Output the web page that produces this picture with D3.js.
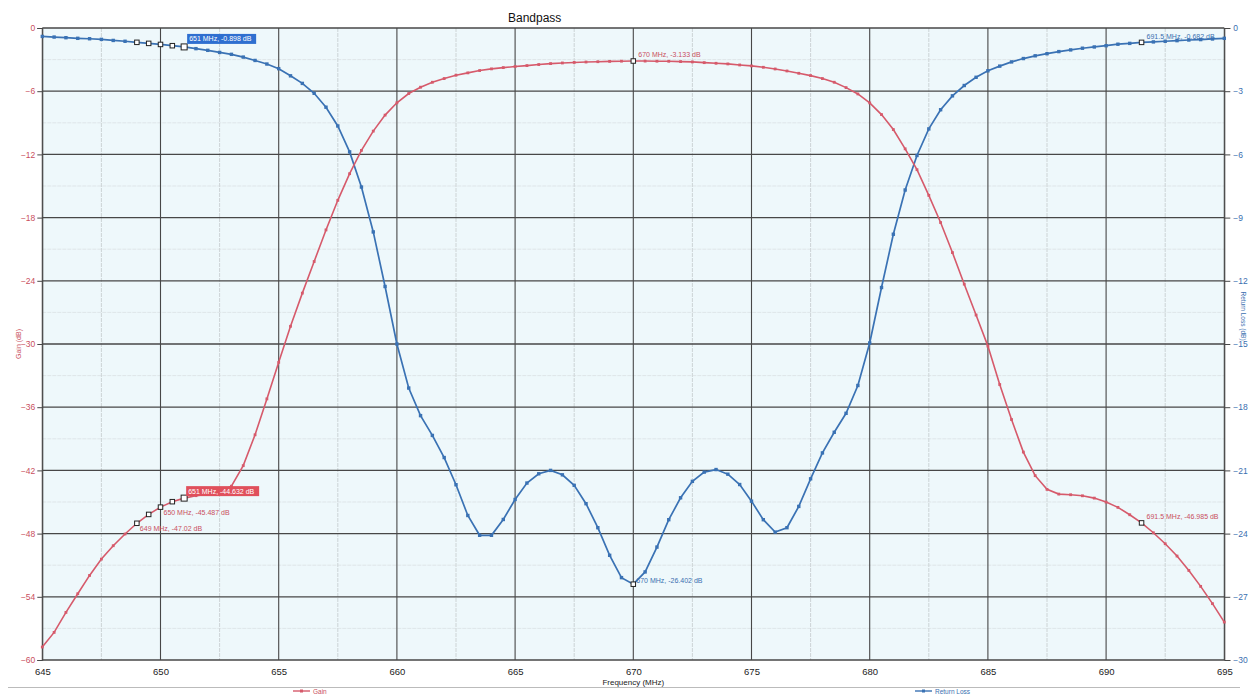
<!DOCTYPE html>
<html><head><meta charset="utf-8">
<script src="https://cdn.jsdelivr.net/npm/d3@7/dist/d3.min.js"></script>
<style>
body{margin:0;background:#fff;}
svg{display:block;font-family:"Liberation Sans",Arial,sans-serif;}
</style>
</head><body>
<svg id="chart" width="1248" height="696"></svg>
<script>
// ---------- DATA ----------
const freqs = [645,645.5,646,646.5,647,647.5,648,648.5,649,649.5,650,650.5,651,651.5,652,652.5,653,653.5,654,654.5,
655,655.5,656,656.5,657,657.5,658,658.5,659,659.5,660,660.5,661,661.5,662,662.5,663,663.5,664,664.5,
665,665.5,666,666.5,667,667.5,668,668.5,669,669.5,670,670.5,671,671.5,672,672.5,673,673.5,674,674.5,
675,675.5,676,676.5,677,677.5,678,678.5,679,679.5,680,680.5,681,681.5,682,682.5,683,683.5,684,684.5,
685,685.5,686,686.5,687,687.5,688,688.5,689,689.5,690,690.5,691,691.5,692,692.5,693,693.5,694,694.5,695];

const gain = [-58.77,-57.38,-55.48,-53.71,-51.97,-50.42,-49.15,-48.04,-47.02,-46.18,-45.487,-44.97,-44.632,-44.40,-44.25,-44.00,-43.50,-41.55,-38.62,-35.21,
-31.74,-28.32,-25.17,-22.17,-19.17,-16.36,-13.83,-11.62,-9.79,-8.27,-7.10,-6.22,-5.62,-5.15,-4.80,-4.48,-4.26,-4.04,-3.88,-3.76,
-3.66,-3.57,-3.47,-3.38,-3.32,-3.27,-3.23,-3.20,-3.17,-3.15,-3.133,-3.14,-3.15,-3.16,-3.19,-3.22,-3.29,-3.35,-3.41,-3.51,
-3.60,-3.73,-3.89,-4.08,-4.30,-4.52,-4.80,-5.15,-5.66,-6.26,-7.11,-8.22,-9.64,-11.47,-13.45,-15.89,-18.47,-21.32,-24.32,-27.25,
-30.20,-33.85,-37.17,-40.26,-42.50,-43.80,-44.25,-44.31,-44.41,-44.63,-45.01,-45.51,-46.21,-46.985,-47.92,-48.96,-50.13,-51.50,-53.01,-54.65,-56.40];

const returnLoss = [-0.40,-0.43,-0.46,-0.49,-0.51,-0.54,-0.59,-0.63,-0.68,-0.73,-0.78,-0.84,-0.898,-0.98,-1.06,-1.16,-1.25,-1.38,-1.54,-1.71,
-1.93,-2.27,-2.63,-3.10,-3.76,-4.65,-5.88,-7.55,-9.68,-12.27,-15.00,-17.09,-18.40,-19.34,-20.39,-21.68,-23.14,-24.08,-24.08,-23.33,
-22.38,-21.60,-21.16,-21.00,-21.21,-21.71,-22.58,-23.72,-25.03,-26.09,-26.402,-25.82,-24.64,-23.34,-22.30,-21.52,-21.08,-20.96,-21.18,-21.67,
-22.46,-23.34,-23.93,-23.72,-22.71,-21.40,-20.17,-19.19,-18.29,-16.97,-14.95,-12.32,-9.79,-7.69,-6.05,-4.79,-3.88,-3.22,-2.73,-2.34,
-2.03,-1.81,-1.61,-1.45,-1.32,-1.22,-1.12,-1.04,-0.96,-0.90,-0.84,-0.77,-0.73,-0.682,-0.66,-0.63,-0.60,-0.57,-0.55,-0.52,-0.49];

const xTicks = [645,650,655,660,665,670,675,680,685,690,695];
const xMinorTicks = [647.5,652.5,657.5,662.5,667.5,672.5,677.5,682.5,687.5,692.5];
const gainTicks = [0,-6,-12,-18,-24,-30,-36,-42,-48,-54,-60];
const gainMinorTicks = [-3,-9,-15,-21,-27,-33,-39,-45,-51,-57];
const rlTicks = [0,-3,-6,-9,-12,-15,-18,-21,-24,-27,-30];

const markerFreqs = [649,649.5,650,650.5,651,670,691.5];
const gainMarkerLabels = [[649,"649 MHz, -47.02 dB"],[650,"650 MHz, -45.487 dB"],[670,"670 MHz, -3.133 dB"],[691.5,"691.5 MHz, -46.985 dB"]];
const gainBoxLabel = [651,"651 MHz, -44.632 dB"];
const rlMarkerLabels = [[670,"670 MHz, -26.402 dB"],[691.5,"691.5 MHz, -0.682 dB"]];
const rlBoxLabel = [651,"651 MHz, -0.898 dB"];

const seriesNames = ["Gain","Return Loss"];
const titleText = "Bandpass";

// ---------- STYLE / LAYOUT ----------
const RED = "#d65a6b", BLUE = "#3a72b4";
const RED_TXT = "#c94f60", BLUE_TXT = "#3a6fb0";
const L = 42.3, R = 1224.3, T = 28, B = 660;

const svg = d3.select("#chart");
const x = d3.scaleLinear().domain([645,695]).range([L,R]);
const yG = d3.scaleLinear().domain([-60,0]).range([B,T]);
const yR = d3.scaleLinear().domain([-30,0]).range([B,T]);

// plot background
svg.append("rect").attr("x",L).attr("y",T).attr("width",R-L).attr("height",B-T).attr("fill","#eef8fb");

// minor grid
const grid = svg.append("g");
grid.selectAll(".vmin").data(xMinorTicks).enter().append("line")
  .attr("x1",d=>x(d)).attr("x2",d=>x(d)).attr("y1",T).attr("y2",B)
  .attr("stroke","#c4cacd").attr("stroke-width",0.8).attr("stroke-dasharray","4,1");
grid.selectAll(".hmin").data(gainMinorTicks).enter().append("line")
  .attr("y1",d=>yG(d)).attr("y2",d=>yG(d)).attr("x1",L).attr("x2",R)
  .attr("stroke","#d3d9dc").attr("stroke-width",0.6).attr("stroke-dasharray","4,1");
// major grid
grid.selectAll(".vmaj").data(xTicks).enter().append("line")
  .attr("x1",d=>x(d)).attr("x2",d=>x(d)).attr("y1",T).attr("y2",B)
  .attr("stroke","#474747").attr("stroke-width",1.1);
grid.selectAll(".hmaj").data(gainTicks).enter().append("line")
  .attr("y1",d=>yG(d)).attr("y2",d=>yG(d)).attr("x1",L).attr("x2",R)
  .attr("stroke","#474747").attr("stroke-width",1.3);

// axes
const xAxis = svg.append("g").attr("transform",`translate(0,${B})`)
  .call(d3.axisBottom(x).tickValues(xTicks).tickSize(0).tickPadding(8).tickFormat(d3.format("d")));
xAxis.select(".domain").remove();
xAxis.selectAll("text").attr("font-size",9.5).attr("fill","#222").attr("font-family","Liberation Sans, Arial, sans-serif");

const lAxis = svg.append("g").attr("transform",`translate(${L},0)`)
  .call(d3.axisLeft(yG).tickValues(gainTicks).tickSize(5).tickPadding(2).tickFormat(d3.format("d")));
lAxis.select(".domain").attr("stroke","#474747");
lAxis.selectAll("line").attr("stroke","#474747");
lAxis.selectAll("text").attr("font-size",8.5).attr("fill",RED_TXT).attr("font-family","Liberation Sans, Arial, sans-serif");

const rAxis = svg.append("g").attr("transform",`translate(${R},0)`)
  .call(d3.axisRight(yR).tickValues(rlTicks).tickSize(6).tickPadding(3).tickFormat(d3.format("d")));
rAxis.select(".domain").attr("stroke","#474747");
rAxis.selectAll("line").attr("stroke","#474747");
rAxis.selectAll("text").attr("font-size",8.5).attr("fill",BLUE_TXT).attr("font-family","Liberation Sans, Arial, sans-serif");

// series
const gainData = freqs.map((f,i)=>({f, v:gain[i]}));
const rlData = freqs.map((f,i)=>({f, v:returnLoss[i]}));

const lineG = d3.line().x(d=>x(d.f)).y(d=>yG(d.v));
const lineR = d3.line().x(d=>x(d.f)).y(d=>yR(d.v));

svg.append("path").datum(rlData).attr("d",lineR).attr("fill","none").attr("stroke",BLUE).attr("stroke-width",1.7);
svg.append("path").datum(gainData).attr("d",lineG).attr("fill","none").attr("stroke",RED).attr("stroke-width",1.6);

svg.append("g").selectAll("rect").data(rlData).enter().append("rect")
  .attr("x",d=>x(d.f)-1.7).attr("y",d=>yR(d.v)-1.7).attr("width",3.4).attr("height",3.4).attr("fill",BLUE);
svg.append("g").selectAll("rect").data(gainData).enter().append("rect")
  .attr("x",d=>x(d.f)-1.4).attr("y",d=>yG(d.v)-1.4).attr("width",2.8).attr("height",2.8).attr("fill",RED);

// markers (hollow squares)
function gainAt(f){ return gain[freqs.indexOf(f)]; }
function rlAt(f){ return returnLoss[freqs.indexOf(f)]; }
const mk = svg.append("g");
markerFreqs.forEach(f=>{
  const s = f===651 ? 6 : 4.5;
  mk.append("rect").attr("x",x(f)-s/2).attr("y",yG(gainAt(f))-s/2).attr("width",s).attr("height",s)
    .attr("fill","#fff").attr("stroke","#222").attr("stroke-width",1);
  mk.append("rect").attr("x",x(f)-s/2).attr("y",yR(rlAt(f))-s/2).attr("width",s).attr("height",s)
    .attr("fill","#fff").attr("stroke","#222").attr("stroke-width",1);
});

// marker labels
const lab = svg.append("g").attr("font-size",7);
gainMarkerLabels.forEach(([f,t])=>{
  const px = x(f), py = yG(gainAt(f));
  let dx = 3, dy = 8;
  if (f===670 || f===691.5) { dx = 5; dy = -4; }
  lab.append("text").attr("x",px+dx).attr("y",py+dy).attr("fill",RED_TXT).text(t);
});
rlMarkerLabels.forEach(([f,t])=>{
  const px = x(f), py = yR(rlAt(f));
  let dx = 3, dy = -1;
  if (f===691.5) { dx = 5; dy = -3; }
  lab.append("text").attr("x",px+dx).attr("y",py+dy).attr("fill",BLUE_TXT).text(t);
});
// boxed labels at 651
(function(){
  const f = gainBoxLabel[0], px = x(f), py = yG(gainAt(f));
  const g = lab.append("g");
  g.append("rect").attr("x",px+2).attr("y",py-12).attr("width",73).attr("height",10).attr("fill","#e0505c");
  g.append("text").attr("x",px+4).attr("y",py-4.5).attr("fill","#fff").text(gainBoxLabel[1]);
  const f2 = rlBoxLabel[0], px2 = x(f2), py2 = yR(rlAt(f2));
  const g2 = lab.append("g");
  g2.append("rect").attr("x",px2+3).attr("y",py2-13).attr("width",69).attr("height",10).attr("fill","#2f6fd0");
  g2.append("text").attr("x",px2+5).attr("y",py2-5.5).attr("fill","#fff").text(rlBoxLabel[1]);
})();

// title
svg.append("text").attr("x",508).attr("y",22).attr("font-size",12).attr("fill","#111").text(titleText);

// axis titles
svg.append("text").attr("transform",`translate(21,${(T+B)/2}) rotate(-90)`).attr("text-anchor","middle")
  .attr("font-size",7).attr("fill",RED_TXT).text("Gain (dB)");
svg.append("text").attr("transform",`translate(1240.5,316) rotate(90)`).attr("text-anchor","middle")
  .attr("font-size",6.5).attr("fill",BLUE_TXT).text("Return Loss (dB)");
svg.append("text").attr("x",(L+R)/2).attr("y",685).attr("text-anchor","middle")
  .attr("font-size",8).attr("fill","#222").text("Frequency (MHz)");

// separator + legend
svg.append("line").attr("x1",8).attr("x2",1240).attr("y1",687.5).attr("y2",687.5).attr("stroke","#bbb").attr("stroke-width",1);
const legendItems = [{name:seriesNames[0], color:RED, x0:293},{name:seriesNames[1], color:BLUE, x0:915}];
const lg = svg.append("g");
legendItems.forEach(it=>{
  lg.append("line").attr("x1",it.x0).attr("x2",it.x0+17).attr("y1",691).attr("y2",691).attr("stroke",it.color).attr("stroke-width",1.4);
  lg.append("rect").attr("x",it.x0+7).attr("y",689.5).attr("width",3).attr("height",3).attr("fill",it.color);
  lg.append("text").attr("x",it.x0+20).attr("y",693.5).attr("font-size",6.5).attr("fill",it.color==RED?RED_TXT:BLUE_TXT).text(it.name);
});
</script>
</body></html>
